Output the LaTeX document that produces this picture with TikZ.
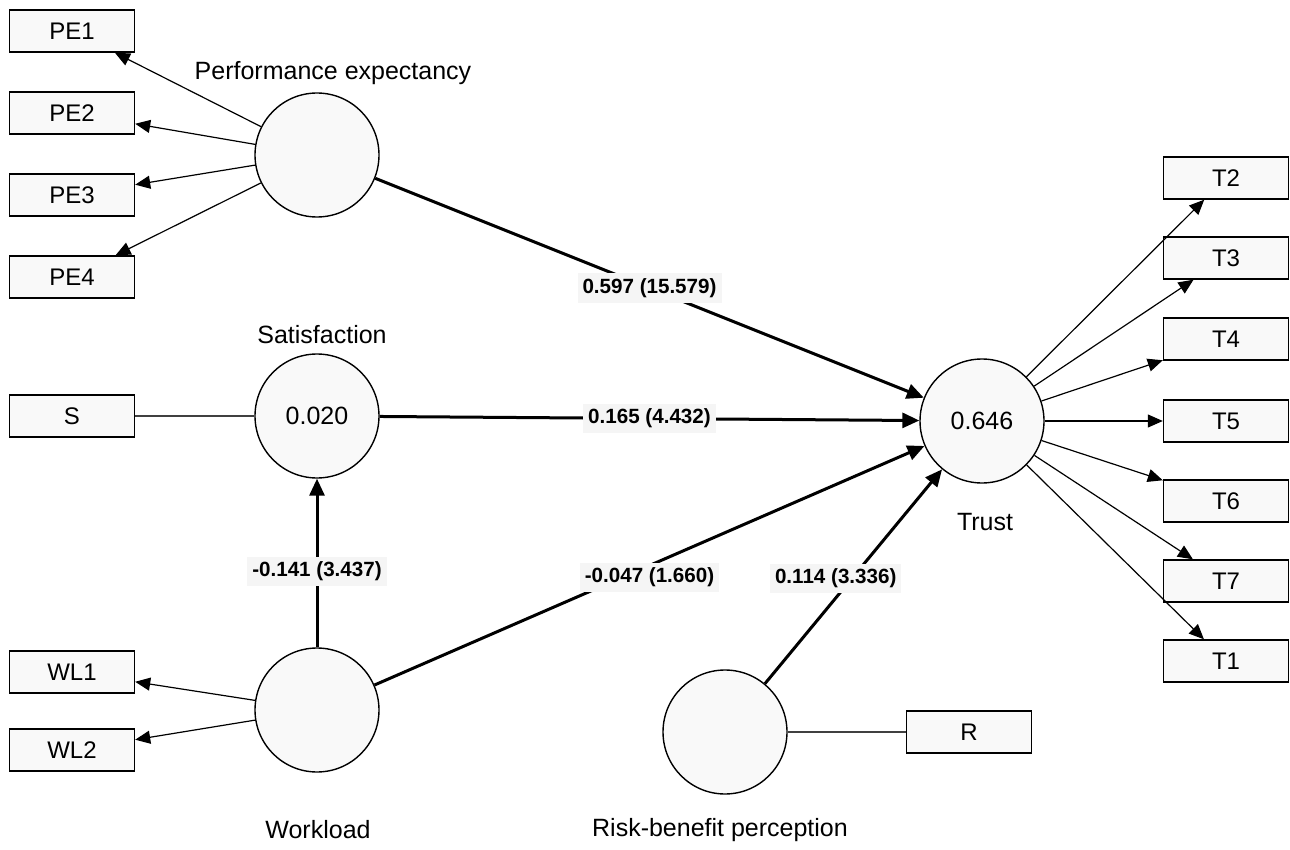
\documentclass[tikz,border=0pt]{standalone}
\usepackage{fontspec}
\setmainfont{Liberation Sans}
\usetikzlibrary{arrows.meta}

\definecolor{nodefill}{HTML}{F9F9F9}
\definecolor{coeffill}{HTML}{F5F5F5}

\tikzset{
  indicator/.style={draw, fill=nodefill, line width=0.7pt, minimum width=62.5pt,
    minimum height=21pt, inner sep=0pt, font=\fontsize{12}{14}\selectfont},
  construct/.style={circle, draw, fill=nodefill, line width=0.7pt, minimum size=62pt,
    inner sep=0pt, font=\fontsize{12.5}{15}\selectfont},
  latentname/.style={font=\fontsize{12.5}{15}\selectfont},
  loading/.style={draw, line width=0.6pt, -{Triangle[length=7.5pt,width=6.5pt]}},
  plainlink/.style={draw, black!75, line width=0.7pt},
  pathcoef/.style={draw, line width=1.5pt, -{Triangle[length=8.5pt,width=7.5pt]}},
  coef/.style={fill=coeffill, inner sep=2.5pt, font=\bfseries\fontsize{10.3}{12}\selectfont}
}

\begin{document}
\begin{tikzpicture}[x=0.5pt,y=-0.5pt]

      \useasboundingbox (0,0) rectangle (1290,850);

      % Indicators
      \begin{scope}[every node/.style={indicator}]
        \node (PE1) at (72,31) {PE1};
        \node (PE2) at (72,113) {PE2};
        \node (PE3) at (72,195) {PE3};
        \node (PE4) at (72,277) {PE4};

        \node (S) at (72,416) {S};

        \node (WL1) at (72,672) {WL1};
        \node (WL2) at (72,750) {WL2};

        \node (R) at (969,732) {R};

        \node (T2) at (1226,178) {T2};
        \node (T3) at (1226,258) {T3};
        \node (T4) at (1226,339) {T4};
        \node (T5) at (1226,421) {T5};
        \node (T6) at (1226,501) {T6};
        \node (T7) at (1226,581) {T7};
        \node (T1) at (1226,661) {T1};
      \end{scope}

      % Constructs
      \begin{scope}[every node/.style={construct}]
        \node (pe) at (317,155) {};
        \node (sat) at (317,416) {0.020};
        \node (wl) at (317,710) {};
        \node (rb) at (725,732) {};
        \node (trust) at (982,421) {0.646};
      \end{scope}

      % Construct names
      \begin{scope}[every node/.style={latentname}]
        \node (pename) at (333,73) {Performance expectancy};
        \node (satname) at (322,335) {Satisfaction};
        \node (wlname) at (318,830) {Workload};
        \node (rbname) at (720,830) {Risk-benefit perception};
        \node (trustname) at (985,522) {Trust};
      \end{scope}

      % Outer loadings
      \begin{scope}[every edge/.style={loading}]
        \path (pe) edge (PE1);
        \path (pe) edge (PE2);
        \path (pe) edge (PE3);
        \path (pe) edge (PE4);

        \path (wl) edge (WL1);
        \path (wl) edge (WL2);

        \path (trust) edge (T2);
        \path (trust) edge (T3);
        \path (trust) edge (T4);
        \path (trust) edge (T5);
        \path (trust) edge (T6);
        \path (trust) edge (T7);
        \path (trust) edge (T1);
      \end{scope}

      % Single-item links
      \path[plainlink] (S) -- (sat);
      \path[plainlink] (rb) -- (R);

      % Path coefficients
      \begin{scope}[every edge/.style={pathcoef}]
        \path (pe) edge node[coef] {0.597 (15.579)} (trust);
        \path (sat) edge node[coef] {0.165 (4.432)} (trust);
        \path (wl) edge node[coef, yshift=-6pt] {-0.047 (1.660)} (trust);
        \path (rb) edge node[coef, pos=0.49, xshift=-8pt] {0.114 (3.336)} (trust);
        \path (wl) edge node[coef, pos=0.45] {-0.141 (3.437)} (sat);
      \end{scope}

    \end{tikzpicture}
\end{document}
